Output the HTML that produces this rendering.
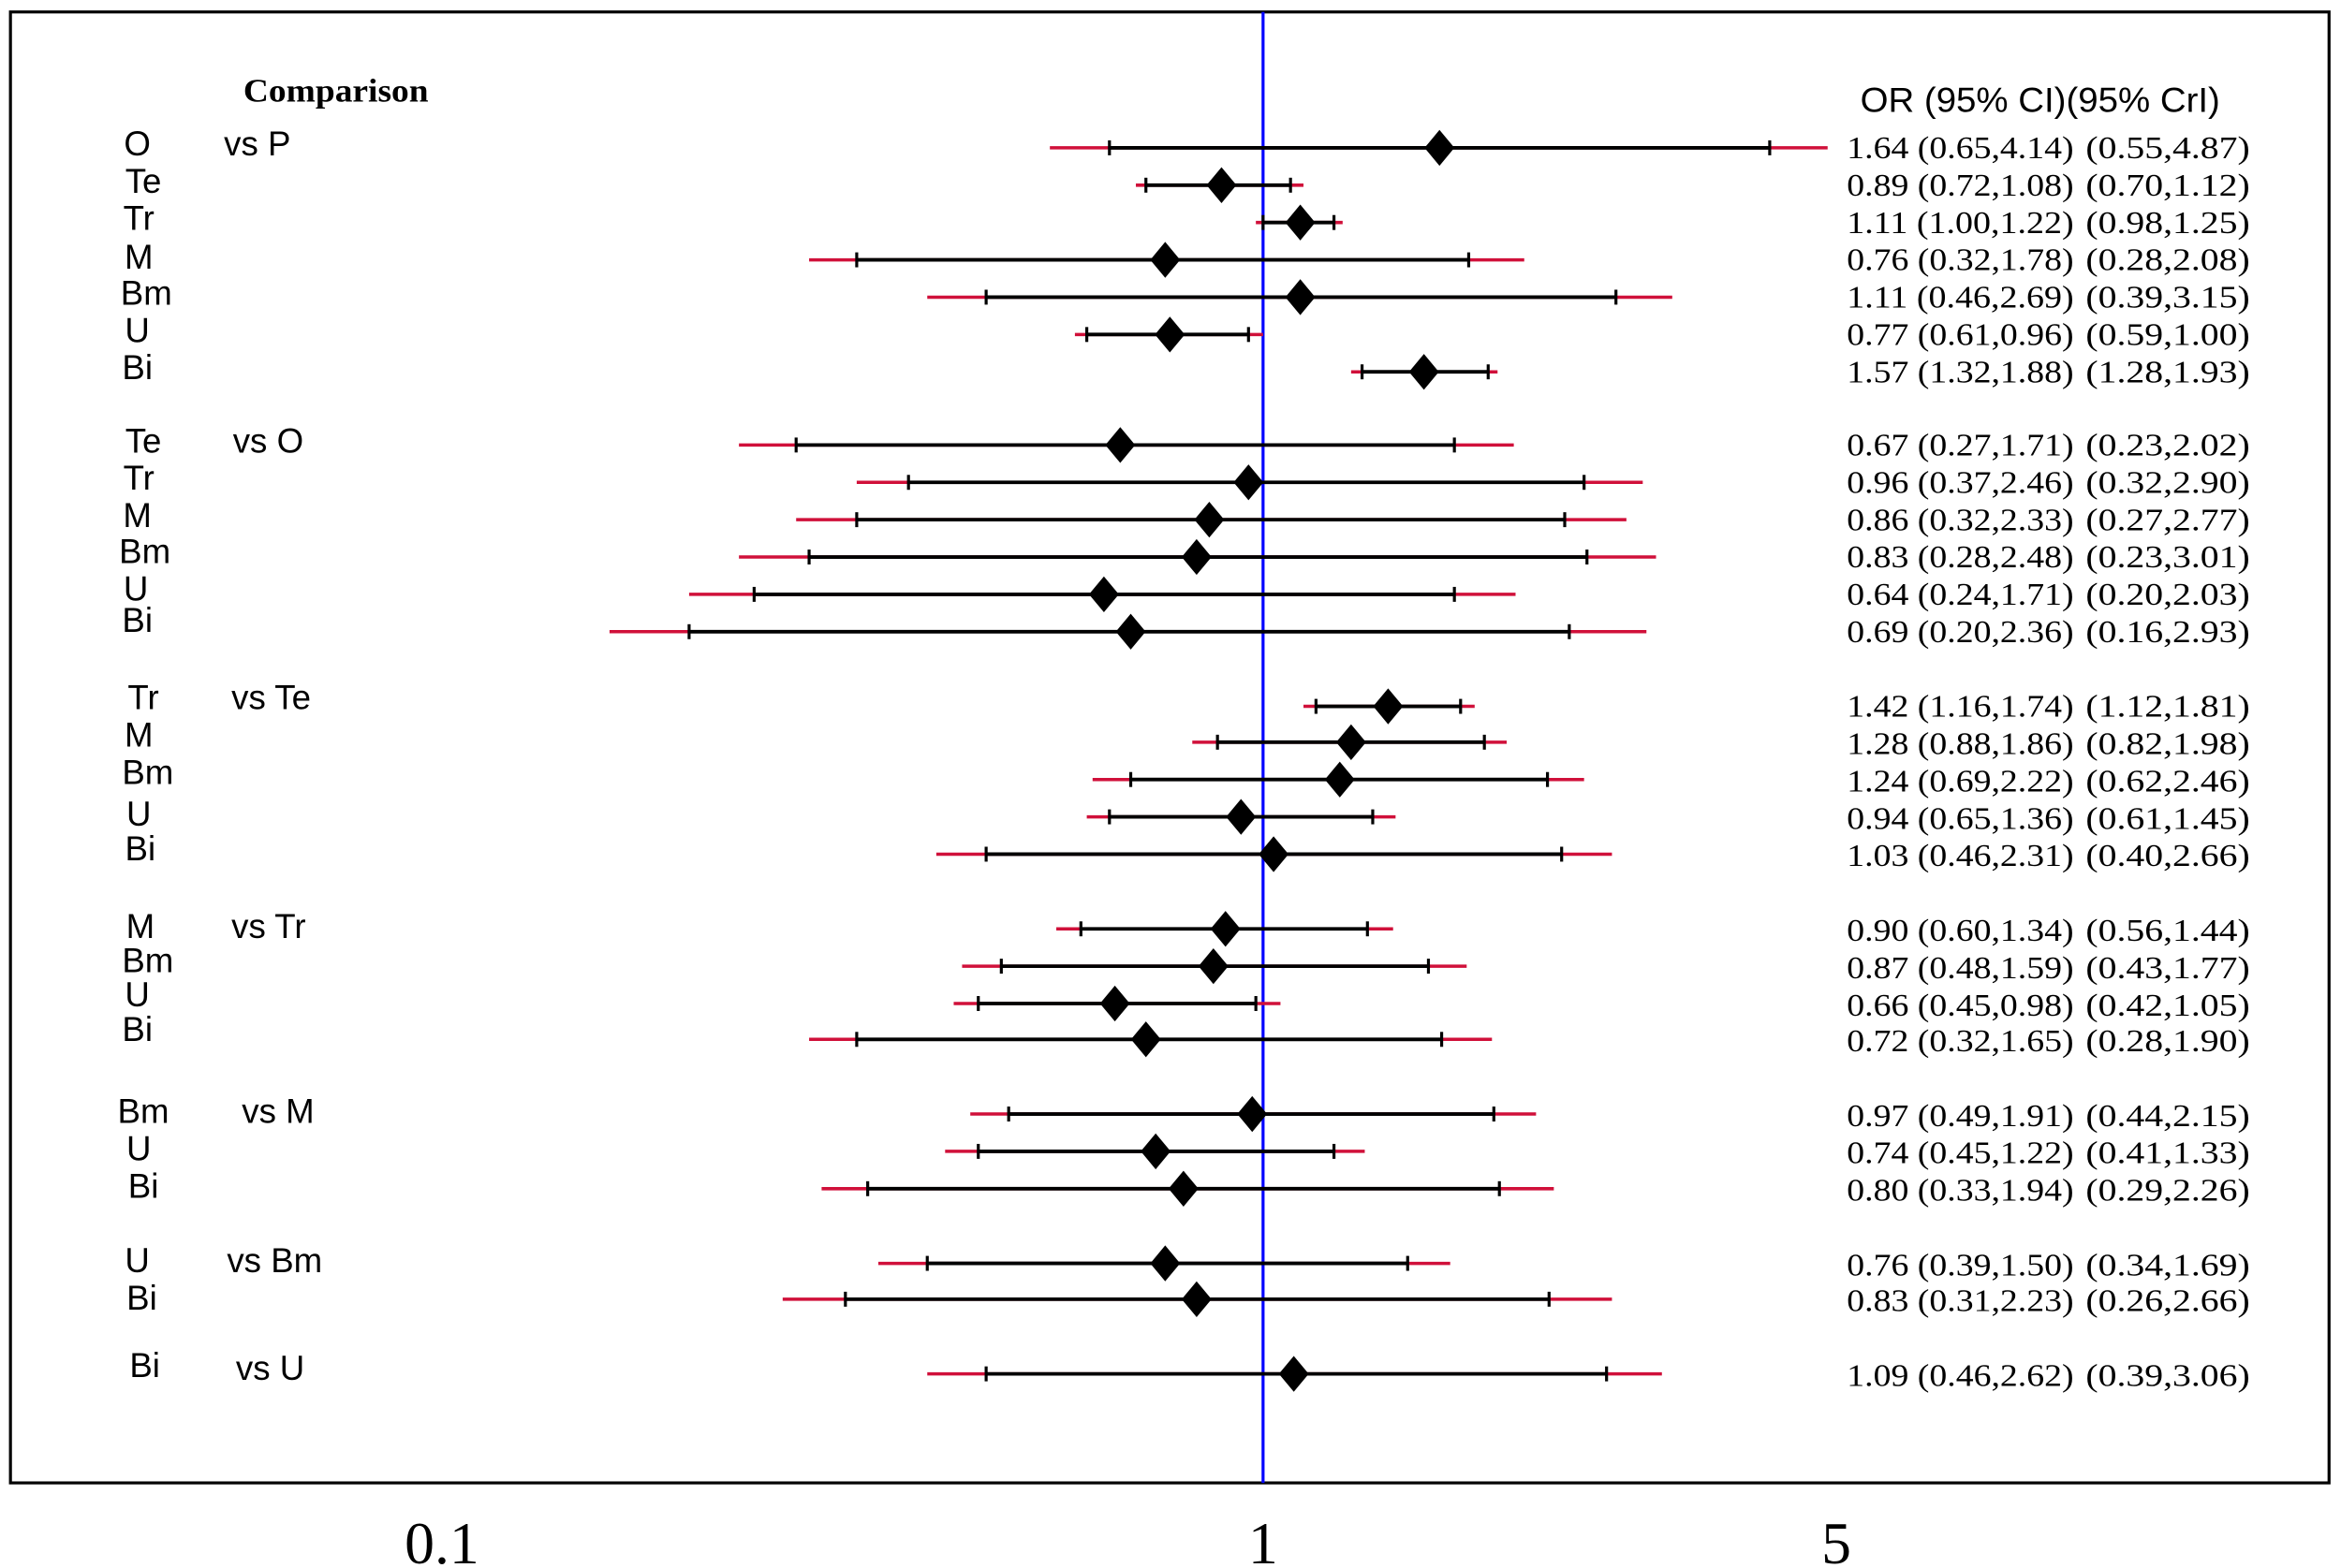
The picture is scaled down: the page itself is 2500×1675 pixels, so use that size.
<!DOCTYPE html>
<html><head><meta charset="utf-8"><style>
html,body{margin:0;padding:0;background:#fff}
svg{display:block}
.s{font-family:"Liberation Sans",sans-serif;font-size:23px}
.r{font-family:"Liberation Serif",serif;font-size:21px}
</style></head><body>
<svg id="c" width="2500" height="1675" viewBox="0 0 1568 1050" preserveAspectRatio="none" xmlns="http://www.w3.org/2000/svg">
<rect x="7" y="8" width="1553" height="985" fill="none" stroke="#000" stroke-width="2"/>
<line x1="846" y1="8" x2="846" y2="993" stroke="#0000ff" stroke-width="2"/>
<g id="g"></g>
<text x="296" y="1047" text-anchor="middle" font-family="Liberation Serif, serif" font-size="40">0.1</text>
<text x="846" y="1047" text-anchor="middle" font-family="Liberation Serif, serif" font-size="40">1</text>
<text x="1230" y="1047" text-anchor="middle" font-family="Liberation Serif, serif" font-size="40">5</text>
<text x="163" y="68" font-family="Liberation Serif, serif" font-weight="bold" font-size="22" textLength="124" lengthAdjust="spacingAndGlyphs">Comparison</text>
<text x="1246" y="75" class="s" textLength="241" lengthAdjust="spacingAndGlyphs">OR (95% CI)(95% CrI)</text>
<g class="s" text-anchor="middle">
<text x="92" y="104">O</text><text x="96" y="129">Te</text><text x="93" y="154">Tr</text><text x="93" y="180">M</text><text x="98" y="204">Bm</text><text x="92" y="229">U</text><text x="92" y="254">Bi</text>
<text x="96" y="303">Te</text><text x="93" y="328">Tr</text><text x="92" y="353">M</text><text x="97" y="377">Bm</text><text x="91" y="402">U</text><text x="92" y="423">Bi</text>
<text x="96" y="475">Tr</text><text x="93" y="500">M</text><text x="99" y="525">Bm</text><text x="93" y="553">U</text><text x="94" y="576">Bi</text>
<text x="94" y="628">M</text><text x="99" y="651">Bm</text><text x="92" y="674">U</text><text x="92" y="697">Bi</text>
<text x="96" y="752">Bm</text><text x="93" y="777">U</text><text x="96" y="802">Bi</text>
<text x="92" y="852">U</text><text x="95" y="877">Bi</text>
<text x="97" y="922">Bi</text>
</g>
<g class="s">
<text x="150" y="104">vs P</text><text x="156" y="303">vs O</text><text x="155" y="475">vs Te</text><text x="155" y="628">vs Tr</text><text x="162" y="752">vs M</text><text x="152" y="852">vs Bm</text><text x="158" y="924">vs U</text>
</g>
<g class="r">
<text x="1237" y="106" textLength="152" lengthAdjust="spacingAndGlyphs">1.64 (0.65,4.14)</text><text x="1397" y="106" textLength="110" lengthAdjust="spacingAndGlyphs">(0.55,4.87)</text>
<text x="1237" y="131" textLength="152" lengthAdjust="spacingAndGlyphs">0.89 (0.72,1.08)</text><text x="1397" y="131" textLength="110" lengthAdjust="spacingAndGlyphs">(0.70,1.12)</text>
<text x="1237" y="156" textLength="152" lengthAdjust="spacingAndGlyphs">1.11 (1.00,1.22)</text><text x="1397" y="156" textLength="110" lengthAdjust="spacingAndGlyphs">(0.98,1.25)</text>
<text x="1237" y="181" textLength="152" lengthAdjust="spacingAndGlyphs">0.76 (0.32,1.78)</text><text x="1397" y="181" textLength="110" lengthAdjust="spacingAndGlyphs">(0.28,2.08)</text>
<text x="1237" y="206" textLength="152" lengthAdjust="spacingAndGlyphs">1.11 (0.46,2.69)</text><text x="1397" y="206" textLength="110" lengthAdjust="spacingAndGlyphs">(0.39,3.15)</text>
<text x="1237" y="231" textLength="152" lengthAdjust="spacingAndGlyphs">0.77 (0.61,0.96)</text><text x="1397" y="231" textLength="110" lengthAdjust="spacingAndGlyphs">(0.59,1.00)</text>
<text x="1237" y="256" textLength="152" lengthAdjust="spacingAndGlyphs">1.57 (1.32,1.88)</text><text x="1397" y="256" textLength="110" lengthAdjust="spacingAndGlyphs">(1.28,1.93)</text>
<text x="1237" y="305" textLength="152" lengthAdjust="spacingAndGlyphs">0.67 (0.27,1.71)</text><text x="1397" y="305" textLength="110" lengthAdjust="spacingAndGlyphs">(0.23,2.02)</text>
<text x="1237" y="330" textLength="152" lengthAdjust="spacingAndGlyphs">0.96 (0.37,2.46)</text><text x="1397" y="330" textLength="110" lengthAdjust="spacingAndGlyphs">(0.32,2.90)</text>
<text x="1237" y="355" textLength="152" lengthAdjust="spacingAndGlyphs">0.86 (0.32,2.33)</text><text x="1397" y="355" textLength="110" lengthAdjust="spacingAndGlyphs">(0.27,2.77)</text>
<text x="1237" y="380" textLength="152" lengthAdjust="spacingAndGlyphs">0.83 (0.28,2.48)</text><text x="1397" y="380" textLength="110" lengthAdjust="spacingAndGlyphs">(0.23,3.01)</text>
<text x="1237" y="405" textLength="152" lengthAdjust="spacingAndGlyphs">0.64 (0.24,1.71)</text><text x="1397" y="405" textLength="110" lengthAdjust="spacingAndGlyphs">(0.20,2.03)</text>
<text x="1237" y="430" textLength="152" lengthAdjust="spacingAndGlyphs">0.69 (0.20,2.36)</text><text x="1397" y="430" textLength="110" lengthAdjust="spacingAndGlyphs">(0.16,2.93)</text>
<text x="1237" y="480" textLength="152" lengthAdjust="spacingAndGlyphs">1.42 (1.16,1.74)</text><text x="1397" y="480" textLength="110" lengthAdjust="spacingAndGlyphs">(1.12,1.81)</text>
<text x="1237" y="505" textLength="152" lengthAdjust="spacingAndGlyphs">1.28 (0.88,1.86)</text><text x="1397" y="505" textLength="110" lengthAdjust="spacingAndGlyphs">(0.82,1.98)</text>
<text x="1237" y="530" textLength="152" lengthAdjust="spacingAndGlyphs">1.24 (0.69,2.22)</text><text x="1397" y="530" textLength="110" lengthAdjust="spacingAndGlyphs">(0.62,2.46)</text>
<text x="1237" y="555" textLength="152" lengthAdjust="spacingAndGlyphs">0.94 (0.65,1.36)</text><text x="1397" y="555" textLength="110" lengthAdjust="spacingAndGlyphs">(0.61,1.45)</text>
<text x="1237" y="580" textLength="152" lengthAdjust="spacingAndGlyphs">1.03 (0.46,2.31)</text><text x="1397" y="580" textLength="110" lengthAdjust="spacingAndGlyphs">(0.40,2.66)</text>
<text x="1237" y="630" textLength="152" lengthAdjust="spacingAndGlyphs">0.90 (0.60,1.34)</text><text x="1397" y="630" textLength="110" lengthAdjust="spacingAndGlyphs">(0.56,1.44)</text>
<text x="1237" y="655" textLength="152" lengthAdjust="spacingAndGlyphs">0.87 (0.48,1.59)</text><text x="1397" y="655" textLength="110" lengthAdjust="spacingAndGlyphs">(0.43,1.77)</text>
<text x="1237" y="680" textLength="152" lengthAdjust="spacingAndGlyphs">0.66 (0.45,0.98)</text><text x="1397" y="680" textLength="110" lengthAdjust="spacingAndGlyphs">(0.42,1.05)</text>
<text x="1237" y="704" textLength="152" lengthAdjust="spacingAndGlyphs">0.72 (0.32,1.65)</text><text x="1397" y="704" textLength="110" lengthAdjust="spacingAndGlyphs">(0.28,1.90)</text>
<text x="1237" y="754" textLength="152" lengthAdjust="spacingAndGlyphs">0.97 (0.49,1.91)</text><text x="1397" y="754" textLength="110" lengthAdjust="spacingAndGlyphs">(0.44,2.15)</text>
<text x="1237" y="779" textLength="152" lengthAdjust="spacingAndGlyphs">0.74 (0.45,1.22)</text><text x="1397" y="779" textLength="110" lengthAdjust="spacingAndGlyphs">(0.41,1.33)</text>
<text x="1237" y="804" textLength="152" lengthAdjust="spacingAndGlyphs">0.80 (0.33,1.94)</text><text x="1397" y="804" textLength="110" lengthAdjust="spacingAndGlyphs">(0.29,2.26)</text>
<text x="1237" y="854" textLength="152" lengthAdjust="spacingAndGlyphs">0.76 (0.39,1.50)</text><text x="1397" y="854" textLength="110" lengthAdjust="spacingAndGlyphs">(0.34,1.69)</text>
<text x="1237" y="878" textLength="152" lengthAdjust="spacingAndGlyphs">0.83 (0.31,2.23)</text><text x="1397" y="878" textLength="110" lengthAdjust="spacingAndGlyphs">(0.26,2.66)</text>
<text x="1237" y="928" textLength="152" lengthAdjust="spacingAndGlyphs">1.09 (0.46,2.62)</text><text x="1397" y="928" textLength="110" lengthAdjust="spacingAndGlyphs">(0.39,3.06)</text>
</g>
</svg>
<script>
var d=[[99,1.64,.65,4.14,.55,4.87],[124,.89,.72,1.08,.70,1.12],[149,1.11,1.00,1.22,.98,1.25],[174,.76,.32,1.78,.28,2.08],[199,1.11,.46,2.69,.39,3.15],[224,.77,.61,.96,.59,1.00],[249,1.57,1.32,1.88,1.28,1.93],
[298,.67,.27,1.71,.23,2.02],[323,.96,.37,2.46,.32,2.90],[348,.86,.32,2.33,.27,2.77],[373,.83,.28,2.48,.23,3.01],[398,.64,.24,1.71,.20,2.03],[423,.69,.20,2.36,.16,2.93],
[473,1.42,1.16,1.74,1.12,1.81],[497,1.28,.88,1.86,.82,1.98],[522,1.24,.69,2.22,.62,2.46],[547,.94,.65,1.36,.61,1.45],[572,1.03,.46,2.31,.40,2.66],
[622,.90,.60,1.34,.56,1.44],[647,.87,.48,1.59,.43,1.77],[672,.66,.45,.98,.42,1.05],[696,.72,.32,1.65,.28,1.90],
[746,.97,.49,1.91,.44,2.15],[771,.74,.45,1.22,.41,1.33],[796,.80,.33,1.94,.29,2.26],
[846,.76,.39,1.50,.34,1.69],[870,.83,.31,2.23,.26,2.66],[920,1.09,.46,2.62,.39,3.06]];
function X(v){return 846+550*Math.log10(v);}
var s='';
d.forEach(function(r){var y=r[0];
s+='<line x1="'+X(r[4])+'" y1="'+y+'" x2="'+X(r[5])+'" y2="'+y+'" stroke="#d0103a" stroke-width="2.2"/>';
s+='<line x1="'+X(r[2])+'" y1="'+y+'" x2="'+X(r[3])+'" y2="'+y+'" stroke="#000" stroke-width="2.4"/>';
[r[2],r[3]].forEach(function(v){var x=X(v);s+='<line x1="'+x+'" y1="'+(y-5)+'" x2="'+x+'" y2="'+(y+5)+'" stroke="#000" stroke-width="2"/>';});
var x=X(r[1]);s+='<polygon points="'+(x-10)+','+y+' '+x+','+(y-12)+' '+(x+10)+','+y+' '+x+','+(y+12)+'" fill="#000"/>';});
document.getElementById('g').innerHTML=s;
</script>
</body></html>
